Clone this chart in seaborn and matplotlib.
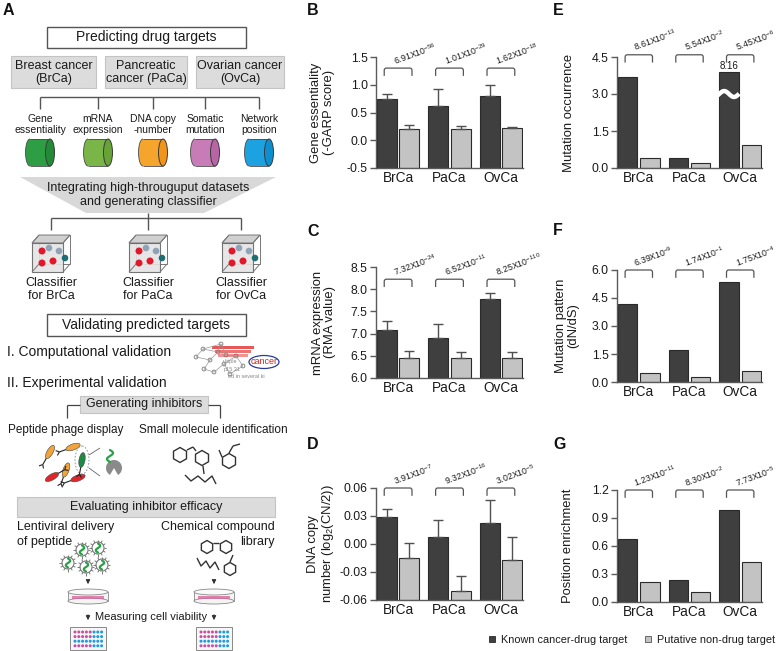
import numpy as np
import pandas as pd
import matplotlib
matplotlib.use("Agg")
import matplotlib.pyplot as plt
import seaborn as sns
import matplotlib.transforms as mtransforms
from matplotlib.path import Path
from matplotlib.patches import (Rectangle, Ellipse, Polygon, Circle, RegularPolygon,
                                Wedge, PathPatch, Arc, Patch)

# ---------------- data ----------------
cancers = ["BrCa", "PaCa", "OvCa"]
groups = ["Known cancer-drug target", "Putative non-drug target"]

ess_known = [0.74, 0.62, 0.80]
ess_known_err = [0.085, 0.31, 0.19]
ess_put = [0.21, 0.21, 0.225]
ess_put_err = [0.06, 0.055, 0.02]
ess_p_mant = ["6.91", "1.01", "1.62"]
ess_p_exp = [-56, -29, -18]

mrna_known = [7.08, 6.91, 7.77]
mrna_known_err = [0.21, 0.31, 0.155]
mrna_put = [6.46, 6.44, 6.44]
mrna_put_err = [0.14, 0.15, 0.15]
mrna_p_mant = ["7.32", "6.52", "8.25"]
mrna_p_exp = [-24, -11, -110]

cnv_known = [0.0286, 0.0079, 0.0225]
cnv_known_err = [0.0093, 0.0175, 0.0246]
cnv_put = [-0.0146, -0.0507, -0.0168]
cnv_put_err = [0.0153, 0.0168, 0.0243]
cnv_p_mant = ["3.91", "9.32", "3.02"]
cnv_p_exp = [-7, -16, -5]

mut_known = [3.70, 0.42, 8.16]
mut_put = [0.39, 0.19, 0.92]
mut_p_mant = ["8.61", "5.54", "5.45"]
mut_p_exp = [-13, -2, -6]

dnds_known = [4.20, 1.72, 5.34]
dnds_put = [0.48, 0.29, 0.61]
dnds_p_mant = ["6.39", "1.74", "1.75"]
dnds_p_exp = [-9, -1, -4]

pos_known = [0.675, 0.24, 0.99]
pos_put = [0.21, 0.11, 0.43]
pos_p_mant = ["1.23", "8.30", "7.73"]
pos_p_exp = [-11, -2, -5]

# ---------------- style ----------------
sns.set_theme(style="ticks")
plt.rcParams["font.family"] = ["Liberation Sans", "DejaVu Sans"]
plt.rcParams["mathtext.fontset"] = "custom"
plt.rcParams["mathtext.rm"] = "Liberation Sans"
plt.rcParams["mathtext.it"] = "Liberation Sans:italic"
plt.rcParams["mathtext.bf"] = "Liberation Sans:bold"
plt.rcParams["axes.unicode_minus"] = False

DARK = "#3f3f3f"
LIGHT = "#c3c3c3"
SPINE = "#5a5a5a"
TXT = "#1a1a1a"
pal = {groups[0]: DARK, groups[1]: LIGHT}

W, H = 778, 651
fig = plt.figure(figsize=(W / 100, H / 100), dpi=100)


def rect_px(x0, y0, x1, y1):
    return [x0 / W, 1 - y1 / H, (x1 - x0) / W, (y1 - y0) / H]


def bar_panel(box, known, put, base, ylim, yticks, fmt, ylabel, lab_x,
              p_mant, p_exp, known_err=None, put_err=None, cap=None,
              br_y=0.90):
    ax = fig.add_axes(rect_px(*box))
    vals = list(known) + list(put)
    shown = [min(v, cap) if cap is not None else v for v in vals]
    df = pd.DataFrame({
        "cancer": cancers * 2,
        "group": [groups[0]] * 3 + [groups[1]] * 3,
        "height": [v - base for v in shown],
    })
    sns.barplot(data=df, x="cancer", y="height", hue="group", order=cancers,
                hue_order=groups, palette=pal, width=0.88, gap=0.12,
                errorbar=None, saturation=1, edgecolor="#2a2a2a",
                linewidth=0.8, bottom=base, legend=False, ax=ax)
    patches = ax.patches[:6]
    xs = [p.get_x() + p.get_width() / 2 for p in patches]
    if known_err is not None:
        for xx, vv, ee in ((xs[:3], known, known_err), (xs[3:], put, put_err)):
            ax.errorbar(xx, vv, yerr=[np.zeros(3), ee], fmt="none",
                        ecolor="#505050", elinewidth=1.0, capsize=3.5,
                        capthick=1.0, zorder=1)
    ax.set_xlim(-0.43, 2.43)
    ax.set_ylim(*ylim)
    ax.set_yticks(yticks)
    ax.set_yticklabels([fmt.format(t) for t in yticks])
    ax.set_xlabel("")
    ax.set_ylabel("")
    sns.despine(ax=ax)
    for s in ("left", "bottom"):
        ax.spines[s].set_color(SPINE)
        ax.spines[s].set_linewidth(1.0)
    ax.tick_params(axis="x", length=0, labelsize=9.8, pad=2, labelcolor=TXT)
    ax.tick_params(axis="y", length=4, width=1, color=SPINE, labelsize=8.8,
                   pad=2, labelcolor=TXT)
    ax.text(lab_x, 0.5, ylabel, transform=ax.transAxes, rotation=90,
            ha="center", va="center", fontsize=9.4, linespacing=1.05,
            multialignment="center", color=TXT)
    # p-value brackets
    trans = mtransforms.blended_transform_factory(ax.transData, ax.transAxes)
    for i in range(3):
        l, r = i - 0.27, i + 0.27
        yt = br_y
        yb = br_y - 0.07
        verts = [(l, yb), (l, yt - 0.02), (l, yt), (l + 0.04, yt),
                 (r - 0.04, yt), (r, yt), (r, yt - 0.02), (r, yb)]
        codes = [Path.MOVETO, Path.LINETO, Path.CURVE3, Path.CURVE3,
                 Path.LINETO, Path.CURVE3, Path.CURVE3, Path.LINETO]
        ax.add_patch(PathPatch(Path(verts, codes), fill=False, ec="#555555",
                               lw=0.9, transform=trans, clip_on=False))
        ax.text(i - 0.06, br_y + 0.03,
                p_mant[i] + "X10$^{" + str(p_exp[i]) + "}$",
                transform=trans, rotation=20, rotation_mode="anchor",
                ha="left", va="baseline", fontsize=6.3, color=TXT,
                clip_on=False)
    return ax, xs


# ---------------- bar panels ----------------
bar_panel((376, 57, 523, 168), ess_known, ess_put, -0.5, (-0.5, 1.5),
          [-0.5, 0.0, 0.5, 1.0, 1.5], "{:.1f}",
          "Gene essentiality\n(-GARP score)", -0.364,
          ess_p_mant, ess_p_exp, ess_known_err, ess_put_err, br_y=0.90)

bar_panel((376, 267, 523, 378), mrna_known, mrna_put, 6.0, (6.0, 8.5),
          [6.0, 6.5, 7.0, 7.5, 8.0, 8.5], "{:.1f}",
          "mRNA expression\n(RMA value)", -0.354,
          mrna_p_mant, mrna_p_exp, mrna_known_err, mrna_put_err, br_y=0.89)

bar_panel((376, 488, 523, 600), cnv_known, cnv_put, -0.06, (-0.06, 0.06),
          [-0.06, -0.03, 0.0, 0.03, 0.06], "{:.2f}",
          "DNA copy\nnumber (log$_2$(CN/2))", -0.37,
          cnv_p_mant, cnv_p_exp, cnv_known_err, cnv_put_err, br_y=1.0)

E_CAP = 3.9
axE, xsE = bar_panel((617, 57, 762, 168), mut_known, mut_put, 0.0, (0.0, 4.5),
                     [0.0, 1.5, 3.0, 4.5], "{:.1f}", "Mutation occurrence",
                     -0.33, mut_p_mant, mut_p_exp, cap=E_CAP, br_y=1.02)
# axis break on the OvCa bar
pE = axE.patches[2]
bx0, bw = pE.get_x(), pE.get_width()
wx = np.linspace(bx0 - 0.04, bx0 + bw + 0.005, 60)
wy = 3.0 + 0.12 * np.sin((wx - bx0) / bw * 2 * np.pi)
axE.plot(wx, wy, color="white", lw=3.2, solid_capstyle="butt", zorder=5,
         clip_on=False)
axE.text(xsE[2], 3.93, f"{mut_known[2]:.2f}", ha="center", va="bottom",
         fontsize=7, color=TXT)

bar_panel((617, 270, 762, 382), dnds_known, dnds_put, 0.0, (0.0, 6.0),
          [0.0, 1.5, 3.0, 4.5, 6.0], "{:.1f}", "Mutation pattern\n(dN/dS)",
          -0.345, dnds_p_mant, dnds_p_exp, br_y=1.0)

bar_panel((617, 490, 762, 602), pos_known, pos_put, 0.0, (0.0, 1.2),
          [0.0, 0.3, 0.6, 0.9, 1.2], "{:.1f}", "Position enrichment",
          -0.34, pos_p_mant, pos_p_exp, br_y=1.0)

# panel letters
for letter, x, y in [("A", 3, 3), ("B", 307, 3), ("C", 307, 224), ("D", 307, 437),
                     ("E", 553, 3), ("F", 553, 223), ("G", 553, 437)]:
    fig.text(x / W, 1 - y / H, letter, fontsize=11.5, fontweight="bold",
             ha="left", va="top", color="#111111")

# legend
handles = [Patch(facecolor=DARK, edgecolor="#2a2a2a", lw=0.6),
           Patch(facecolor=LIGHT, edgecolor="#555555", lw=0.6)]
fig.legend(handles, groups, loc="center", bbox_to_anchor=(632 / W, 1 - 640 / H),
           ncol=2, frameon=False, fontsize=7.8, handlelength=0.55,
           handleheight=0.55, handletextpad=0.6, columnspacing=1.6,
           labelcolor=TXT)

# ---------------- panel A schematic ----------------
axA = fig.add_axes([0, 0, 1, 1], zorder=-1)
axA.set_xlim(0, W)
axA.set_ylim(H, 0)
axA.axis("off")
GBOX = "#dcdcdc"
GEDGE = "#c4c4c4"


def box(x0, y0, x1, y1, fc, ec, lw=1.0):
    axA.add_patch(Rectangle((x0, y0), x1 - x0, y1 - y0, fc=fc, ec=ec, lw=lw))


def txt(x, y, s, size, ha="center", va="center", color=TXT, **kw):
    axA.text(x, y, s, fontsize=size, ha=ha, va=va, color=color,
             linespacing=1.1, **kw)


def line(xs, ys, c="#555555", lw=1.0):
    axA.plot(xs, ys, color=c, lw=lw, solid_capstyle="butt")


box(47, 27, 246, 48, "white", "#555555", 1.0)
txt(146.5, 37.5, "Predicting drug targets", 10)
for (x0, x1), s in zip([(11, 96), (105, 187), (196, 284)],
                       ["Breast cancer\n(BrCa)", "Pancreatic\ncancer (PaCa)",
                        "Ovarian cancer\n(OvCa)"]):
    box(x0, 56, x1, 88, GBOX, GEDGE, 0.8)
    txt((x0 + x1) / 2, 72.5, s, 9)

cyl_x = [40, 98, 153, 205, 259]
line([40, 259], [97, 97])
for cx in cyl_x:
    line([cx, cx], [97, 109])
for cx, s in zip(cyl_x, ["Gene\nessentiality", "mRNA\nexpression",
                         "DNA copy\n-number", "Somatic\nmutation",
                         "Network\nposition"]):
    txt(cx, 124.5, s, 7.5)

cyl_cols = [("#2e9e45", "#238a38"), ("#7ab547", "#68a337"),
            ("#f6a52c", "#f0951a"), ("#c77cb7", "#b765a5"),
            ("#1ca2e1", "#0d8ecf")]
for cx, (c1, c2) in zip(cyl_x, cyl_cols):
    h, w, ew, yc = 27, 29, 9, 152.5
    x0, x1 = cx - w / 2 + ew / 2, cx + w / 2 - ew / 2
    axA.add_patch(Rectangle((x0, yc - h / 2), x1 - x0, h, fc=c1, ec="none"))
    axA.add_patch(Ellipse((x0, yc), ew, h, fc=c1, ec="none"))
    axA.add_patch(Arc((x0, yc), ew, h, theta1=90, theta2=270, color="#4a4a4a", lw=0.6))
    line([x0, x1], [yc - h / 2, yc - h / 2], "#4a4a4a", 0.6)
    line([x0, x1], [yc + h / 2, yc + h / 2], "#4a4a4a", 0.6)
    axA.add_patch(Ellipse((x1, yc), ew, h, fc=c2, ec="#3a3a3a", lw=0.7))

axA.add_patch(Polygon([(20, 177), (276, 177), (204, 213), (86, 213)],
                      closed=True, fc="#d8d8d8", ec="none"))
txt(148, 187.5, "Integrating high-througuput datasets", 9)
txt(148, 201.5, "and generating classifier", 9)

cls_x = [51, 148, 241]
line([51, 241], [218, 218])
for cx in cls_x:
    line([cx, cx], [218, 230])
line([148, 148], [213, 218])


def cube(xc):
    fx0, fx1, fy0, fy1 = xc - 19, xc + 12, 243, 272
    dx, dy = 7, -8
    axA.add_patch(Rectangle((fx0 + dx, fy0 + dy), fx1 - fx0, fy1 - fy0,
                            fc="none", ec="#777777", lw=0.7))
    axA.add_patch(Rectangle((fx0, fy0), fx1 - fx0, fy1 - fy0,
                            fc="#e4e4e4", ec="#666666", lw=0.8, alpha=0.9))
    for (px, py) in [(fx0, fy0), (fx1, fy0), (fx1, fy1), (fx0, fy1)]:
        line([px, px + dx], [py, py + dy], "#777777", 0.7)
    axA.add_patch(Polygon([(fx0, fy0), (fx0 + dx, fy0 + dy), (fx1 + dx, fy0 + dy),
                           (fx1, fy0)], closed=True, fc="#d0d0d0", ec="#666666", lw=0.6))
    for (ox, oy) in [(-2, 248), (8, 251)]:
        axA.add_patch(Circle((xc + ox, oy), 3.3, fc="#8ea3b8", ec="none"))
    axA.add_patch(Circle((xc + 14, 258), 3.3, fc="#1f6e74", ec="none"))
    for (ox, oy) in [(-9, 251), (-9, 263), (2, 261)]:
        axA.add_patch(Circle((xc + ox, oy), 3.5, fc="#e0182a", ec="none"))


for cx, s in zip(cls_x, ["Classifier\nfor BrCa", "Classifier\nfor PaCa",
                         "Classifier\nfor OvCa"]):
    cube(cx)
    txt(cx, 289.5, s, 9)

box(47, 314, 246, 336, "white", "#555555", 1.0)
txt(146.5, 325, "Validating predicted targets", 10)
txt(7, 352, "I. Computational validation", 10, ha="left")
txt(7, 383, "II. Experimental validation", 10, ha="left")

# network icon
nodes = [(196, 357), (203, 349), (210, 360), (218, 352), (204, 369),
         (214, 372), (224, 364), (230, 374), (236, 356), (221, 344),
         (243, 366), (226, 355)]
edges = [(0, 1), (0, 2), (1, 3), (2, 3), (2, 4), (4, 5), (5, 6), (6, 7),
         (6, 8), (3, 9), (8, 10), (7, 10), (3, 11), (11, 8), (9, 11), (1, 9)]
for a, b in edges:
    line([nodes[a][0], nodes[b][0]], [nodes[a][1], nodes[b][1]], "#9a9a9a", 0.5)
for (nx, ny) in nodes:
    axA.add_patch(Circle((nx, ny), 1.9, fc="white", ec="#777777", lw=0.6))
for k, yy in enumerate([346, 350, 354]):
    axA.add_patch(Rectangle((212 + 3 * k, yy), 42 - 6 * k, 2.6,
                            fc="#e33b3b", ec="none", alpha=0.85 - 0.15 * k))
txt(264, 362, "cancer", 6.5, color="#d62020")
axA.add_patch(Ellipse((264, 362), 30, 13, fc="none", ec="#2a3b9a", lw=0.9))
txt(230, 362, "ultiple", 4, color="#888888")
txt(232, 369, "p15.31", 4, color="#888888")
txt(246, 377, "ed in several ki", 4, color="#888888")

# generating inhibitors
box(80, 396, 208, 413, GBOX, GEDGE, 0.8)
txt(144, 404.5, "Generating inhibitors", 9)
line([67, 80], [404.5, 404.5], "#444444", 0.9)
line([67, 67], [404.5, 418], "#444444", 0.9)
line([208, 220], [404.5, 404.5], "#444444", 0.9)
line([220, 220], [404.5, 418], "#444444", 0.9)
txt(65.5, 430, "Peptide phage display", 8.5)
txt(213, 430, "Small molecule identification", 8.5)


def phage(cx, cy, ang, col):
    axA.add_patch(Ellipse((cx, cy), 15, 6, angle=ang, fc=col, ec="#444444", lw=0.4))
    a = np.deg2rad(ang)
    ux, uy = np.cos(a), np.sin(a)
    tx, ty = cx - ux * 7.5, cy - uy * 7.5
    ex, ey = tx - ux * 7, ty - uy * 7
    line([tx, ex], [ty, ey], "#222222", 0.8)
    for s in (1, -1):
        b = a + s * 0.7
        line([ex, ex - np.cos(b) * 4], [ey, ey - np.sin(b) * 4], "#222222", 0.8)


phage(50, 452, -60, "#f2a33a")
phage(73, 447, -20, "#f2a33a")
phage(66, 470, -70, "#f2a33a")
phage(52, 477, 150, "#e0262a")
phage(78, 478, -20, "#e0262a")
phage(82, 460, -80, "#1e8b45")
axA.add_patch(Ellipse((82, 460), 14, 28, fc="none", ec="#888888", lw=0.6, ls=(0, (2, 2))))
line([89, 100], [455, 448], "#666666", 0.6)
line([89, 100], [468, 476], "#666666", 0.6)
axA.add_patch(Wedge((114, 468), 8, 120, 60, fc="#8a8a8a", ec="none"))
sq_t = np.linspace(0, 1, 30)
axA.plot(110 + 3 * np.sin(sq_t * 2 * np.pi), 450 + sq_t * 12, color="#2aa048", lw=1.6)


def hexagon(x, y, r=7.5, rot=0.0, lw=1.0):
    axA.add_patch(RegularPolygon((x, y), 6, radius=r, orientation=rot, fill=False,
                                 ec="#333333", lw=lw))


hexagon(180, 455)
hexagon(202, 458)
line([187, 193], [450, 447], "#333333", 1.0)
line([193, 196], [447, 451], "#333333", 1.0)
line([203, 204], [466, 474], "#333333", 1.0)
hexagon(229, 461)
line([229, 233], [453, 446], "#333333", 1.0)
line([233, 240], [446, 444], "#333333", 1.0)
line([222, 219], [457, 450], "#333333", 1.0)
line([185, 191, 198, 205, 212, 216], [475, 481, 476, 482, 476, 484], "#333333", 1.0)

# evaluating inhibitors
box(17, 497, 275, 517, GBOX, GEDGE, 0.8)
txt(146, 507, "Evaluating inhibitor efficacy", 9)
txt(17, 527, "Lentiviral delivery", 9, ha="left")
txt(17, 542, "of peptide", 9, ha="left")
txt(275, 527, "Chemical compound", 9, ha="right")
txt(275, 542, "library", 9, ha="right")

for (vx, vy) in [(82, 550), (98, 548), (68, 563), (86, 567), (102, 565)]:
    for k in range(12):
        th = 2 * np.pi * k / 12
        line([vx + 6 * np.cos(th), vx + 8.5 * np.cos(th)],
             [vy + 6 * np.sin(th), vy + 8.5 * np.sin(th)], "#777777", 0.7)
    axA.add_patch(Circle((vx, vy), 6, fc="white", ec="#777777", lw=0.8))
    tt = np.linspace(0, 1, 20)
    axA.plot(vx + 2.2 * np.sin(tt * 2 * np.pi), vy - 4.5 + tt * 9,
             color="#2aa048", lw=1.6)

hexagon(207, 547, 6.5)
hexagon(226, 547, 6.5)
line([213, 219], [543, 543], "#333333", 1.0)
hexagon(230, 569, 6.5)
line([230, 233], [562, 555], "#333333", 1.0)
line([197, 201, 206, 210, 215, 219], [558, 566, 561, 568, 562, 570], "#333333", 1.0)

for ax_x in (88, 214):
    axA.annotate("", xy=(ax_x, 587), xytext=(ax_x, 578),
                 arrowprops=dict(arrowstyle="-|>", color="#333333", lw=0.8,
                                 mutation_scale=6))
    axA.add_patch(Rectangle((ax_x - 20, 592), 40, 9, fc="#f4f4f4", ec="#888888", lw=0.6))
    axA.add_patch(Ellipse((ax_x, 601), 40, 6, fc="#f4f4f4", ec="#888888", lw=0.6))
    axA.add_patch(Ellipse((ax_x, 592), 40, 6, fc="#fafafa", ec="#888888", lw=0.6))
    axA.add_patch(Rectangle((ax_x - 16, 596), 32, 3, fc="#d9679a", ec="none", alpha=0.8))
    axA.annotate("", xy=(ax_x, 623), xytext=(ax_x, 612),
                 arrowprops=dict(arrowstyle="-|>", color="#333333", lw=0.8,
                                 mutation_scale=6))

txt(151, 617, "Measuring cell viability", 8)

plate_rows = ["PPPPPBBB", "PPPPPBBB", "BBBBBBBB", "PPPPPBBB"]
for px0 in (70, 196):
    axA.add_patch(Rectangle((px0, 627), 36, 23, fc="#f6f6f6", ec="#888888", lw=0.7))
    for r, row in enumerate(plate_rows):
        for c, ch in enumerate(row):
            axA.add_patch(Circle((px0 + 5 + c * 3.8, 632 + r * 4.6), 1.5,
                                 fc="#c94fa0" if ch == "P" else "#1f9be0", ec="none"))

fig.savefig("out.png", dpi=100)
